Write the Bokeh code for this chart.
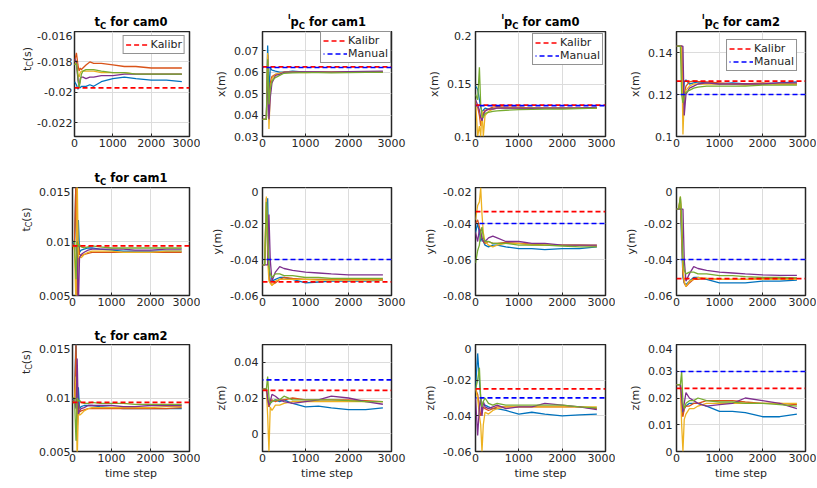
import math
from bokeh.plotting import figure
from bokeh.layouts import column, row
from bokeh.models import Label, FixedTicker, Range1d
from bokeh.embed import file_html
from bokeh.resources import INLINE

# ---------------- data ----------------
TIME_STEP = [0, 50, 90, 120, 150, 180, 220, 300, 400, 500, 700, 1000, 1300, 1600, 2000, 2400, 2800]
X_LIMITS = [0, 3000]
X_TICKS = [0, 1000, 2000, 3000]
X_TICK_LABELS = ["0", "1000", "2000", "3000"]
X_LABEL = "time step"
RUN_COLORS = ["#0072BD", "#D95319", "#EDB120", "#7E2F8E", "#77AC30"]
KALIBR_COLOR = "#FF0000"
MANUAL_COLOR = "#0000FF"

# t_C for cam0
TC_CAM0_BLUE = [-0.0193, -0.0195, -0.0198, -0.0196, -0.0197, -0.0196, -0.0196, -0.0196, -0.0195, -0.0196, -0.0193, -0.0191, -0.0190, -0.0191, -0.0192, -0.0192, -0.0193]
TC_CAM0_ORANGE = [-0.0180, -0.0174, -0.0182, -0.0186, -0.0184, -0.0185, -0.0184, -0.0182, -0.0180, -0.0181, -0.0181, -0.0182, -0.0183, -0.0183, -0.0184, -0.0184, -0.0184]
TC_CAM0_YELLOW = [-0.0182, -0.0179, -0.0188, -0.0190, -0.0187, -0.0186, -0.0186, -0.0186, -0.0186, -0.0186, -0.0187, -0.0187, -0.0187, -0.0188, -0.0188, -0.0188, -0.0188]
TC_CAM0_PURPLE = [-0.0178, -0.0180, -0.0192, -0.0196, -0.0191, -0.0190, -0.0190, -0.0191, -0.0190, -0.0190, -0.0189, -0.0189, -0.0188, -0.0188, -0.0188, -0.0188, -0.0188]
TC_CAM0_GREEN = [-0.0182, -0.0181, -0.0190, -0.0197, -0.0193, -0.0188, -0.0186, -0.0185, -0.0185, -0.0185, -0.0186, -0.0187, -0.0187, -0.0188, -0.0188, -0.0188, -0.0188]
TC_CAM0_KALIBR = -0.0197
TC_CAM0_YLIM = [-0.0229, -0.016]
TC_CAM0_YTICKS = [-0.022, -0.02, -0.018, -0.016]
TC_CAM0_YTICK_LABELS = ["-0.022", "-0.02", "-0.018", "-0.016"]

# Ip_C for cam1, x
X_CAM1_BLUE = [0.038, 0.038, 0.038, 0.0725, 0.050, 0.062, 0.061, 0.0605, 0.0600, 0.0600, 0.0605, 0.0600, 0.0600, 0.0600, 0.0600, 0.0600, 0.0602]
X_CAM1_ORANGE = [0.038, 0.038, 0.038, 0.068, 0.040, 0.055, 0.058, 0.059, 0.0595, 0.0600, 0.0600, 0.0600, 0.0600, 0.0600, 0.0601, 0.0600, 0.0600]
X_CAM1_YELLOW = [0.038, 0.038, 0.038, 0.069, 0.0335, 0.050, 0.057, 0.059, 0.0595, 0.0600, 0.0600, 0.0598, 0.0600, 0.0600, 0.0600, 0.0600, 0.0600]
X_CAM1_PURPLE = [0.038, 0.038, 0.038, 0.060, 0.038, 0.048, 0.055, 0.0585, 0.0590, 0.0600, 0.0600, 0.0602, 0.0602, 0.0600, 0.0603, 0.0604, 0.0605]
X_CAM1_GREEN = [0.038, 0.038, 0.038, 0.066, 0.045, 0.052, 0.056, 0.0575, 0.0585, 0.0595, 0.0597, 0.0598, 0.0598, 0.0597, 0.0598, 0.0599, 0.0599]
X_CAM1_KALIBR = 0.0625
X_CAM1_MANUAL = 0.0622
X_CAM1_YLIM = [0.03, 0.079]
X_CAM1_YTICKS = [0.03, 0.04, 0.05, 0.06, 0.07]
X_CAM1_YTICK_LABELS = ["0.03", "0.04", "0.05", "0.06", "0.07"]

# Ip_C for cam0, x
X_CAM0_BLUE = [0.148, 0.145, 0.135, 0.128, 0.124, 0.125, 0.127, 0.126, 0.1265, 0.127, 0.1275, 0.127, 0.1275, 0.127, 0.127, 0.127, 0.1275]
X_CAM0_ORANGE = [0.130, 0.128, 0.120, 0.110, 0.118, 0.122, 0.125, 0.126, 0.128, 0.1285, 0.128, 0.128, 0.127, 0.127, 0.127, 0.127, 0.127]
X_CAM0_YELLOW = [0.135, 0.100, 0.110, 0.100, 0.125, 0.100, 0.120, 0.124, 0.126, 0.127, 0.127, 0.127, 0.127, 0.127, 0.127, 0.127, 0.127]
X_CAM0_PURPLE = [0.135, 0.130, 0.125, 0.118, 0.115, 0.120, 0.124, 0.126, 0.126, 0.127, 0.127, 0.127, 0.1268, 0.127, 0.127, 0.127, 0.128]
X_CAM0_GREEN = [0.140, 0.135, 0.166, 0.130, 0.120, 0.118, 0.122, 0.123, 0.124, 0.1245, 0.125, 0.1255, 0.1258, 0.126, 0.126, 0.1265, 0.127]
X_CAM0_KALIBR = 0.1298
X_CAM0_MANUAL = 0.1295
X_CAM0_YLIM = [0.1, 0.2]
X_CAM0_YTICKS = [0.1, 0.15, 0.2]
X_CAM0_YTICK_LABELS = ["0.1", "0.15", "0.2"]

# Ip_C for cam2, x
X_CAM2_BLUE = [0.143, 0.143, 0.143, 0.143, 0.118, 0.126, 0.127, 0.125, 0.1255, 0.126, 0.1255, 0.125, 0.1255, 0.125, 0.125, 0.1255, 0.126]
X_CAM2_ORANGE = [0.143, 0.143, 0.143, 0.143, 0.115, 0.120, 0.124, 0.126, 0.1265, 0.1262, 0.126, 0.1255, 0.125, 0.125, 0.1255, 0.125, 0.125]
X_CAM2_YELLOW = [0.143, 0.143, 0.143, 0.143, 0.101, 0.118, 0.122, 0.124, 0.125, 0.125, 0.125, 0.125, 0.125, 0.1245, 0.125, 0.125, 0.125]
X_CAM2_PURPLE = [0.143, 0.143, 0.143, 0.143, 0.143, 0.110, 0.120, 0.123, 0.124, 0.125, 0.1255, 0.125, 0.125, 0.125, 0.125, 0.1255, 0.1255]
X_CAM2_GREEN = [0.143, 0.143, 0.143, 0.120, 0.116, 0.120, 0.121, 0.122, 0.123, 0.1235, 0.124, 0.124, 0.124, 0.124, 0.1245, 0.1245, 0.1245]
X_CAM2_KALIBR = 0.1264
X_CAM2_MANUAL = 0.120
X_CAM2_YLIM = [0.1, 0.15]
X_CAM2_YTICKS = [0.1, 0.12, 0.14]
X_CAM2_YTICK_LABELS = ["0.1", "0.12", "0.14"]

# t_C for cam1
TC_CAM1_BLUE = [0.0100, 0.0095, 0.0160, 0.0040, 0.0120, 0.0090, 0.0092, 0.0093, 0.0094, 0.0094, 0.0093, 0.0092, 0.0091, 0.0091, 0.0091, 0.0091, 0.0091]
TC_CAM1_ORANGE = [0.0095, 0.0098, 0.0160, 0.0040, 0.0100, 0.0088, 0.0087, 0.0088, 0.0089, 0.0090, 0.0090, 0.0090, 0.0090, 0.0090, 0.0090, 0.0090, 0.0090]
TC_CAM1_YELLOW = [0.0098, 0.0092, 0.0040, 0.0160, 0.0085, 0.0086, 0.0085, 0.0088, 0.0090, 0.0091, 0.0091, 0.0091, 0.0090, 0.0090, 0.0090, 0.0091, 0.0091]
TC_CAM1_PURPLE = [0.0098, 0.0097, 0.0095, 0.0085, 0.0040, 0.0085, 0.0088, 0.0090, 0.0092, 0.0093, 0.0093, 0.0093, 0.0093, 0.0092, 0.0092, 0.0093, 0.0093]
TC_CAM1_GREEN = [0.0100, 0.0100, 0.0065, 0.0100, 0.0095, 0.0097, 0.0095, 0.0094, 0.0095, 0.0096, 0.0095, 0.0094, 0.0094, 0.0094, 0.0094, 0.0094, 0.0094]
TC_CAM1_KALIBR = 0.0096
TC_CAM1_YLIM = [0.005, 0.015]
TC_CAM1_YTICKS = [0.005, 0.01, 0.015]
TC_CAM1_YTICK_LABELS = ["0.005", "0.01", "0.015"]

# Ip_C for cam1, y
Y_CAM1_BLUE = [-0.043, -0.043, -0.020, -0.006, -0.045, -0.052, -0.052, -0.051, -0.050, -0.050, -0.051, -0.053, -0.0525, -0.052, -0.052, -0.052, -0.0515]
Y_CAM1_ORANGE = [-0.043, -0.043, -0.006, -0.030, -0.050, -0.053, -0.054, -0.053, -0.051, -0.050, -0.0505, -0.051, -0.051, -0.051, -0.051, -0.051, -0.051]
Y_CAM1_YELLOW = [-0.043, -0.043, -0.005, -0.040, -0.052, -0.053, -0.0545, -0.052, -0.051, -0.051, -0.051, -0.051, -0.0515, -0.0515, -0.0515, -0.0515, -0.0515]
Y_CAM1_PURPLE = [-0.043, -0.043, -0.043, -0.043, -0.015, -0.040, -0.052, -0.047, -0.044, -0.045, -0.046, -0.047, -0.0475, -0.048, -0.0485, -0.0485, -0.0485]
Y_CAM1_GREEN = [-0.043, -0.043, -0.008, -0.025, -0.044, -0.048, -0.050, -0.048, -0.048, -0.049, -0.049, -0.050, -0.050, -0.0505, -0.0505, -0.0505, -0.0505]
Y_CAM1_KALIBR = -0.0524
Y_CAM1_MANUAL = -0.040
Y_CAM1_YLIM = [-0.06, 0.0]
Y_CAM1_YTICKS = [-0.06, -0.04, -0.02, 0.0]
Y_CAM1_YTICK_LABELS = ["-0.06", "-0.04", "-0.02", "0"]

# Ip_C for cam0, y
Y_CAM0_BLUE = [-0.045, -0.040, -0.045, -0.050, -0.048, -0.050, -0.052, -0.053, -0.052, -0.052, -0.053, -0.054, -0.054, -0.0545, -0.054, -0.054, -0.053]
Y_CAM0_ORANGE = [-0.040, -0.038, -0.042, -0.045, -0.048, -0.050, -0.051, -0.050, -0.051, -0.051, -0.0505, -0.051, -0.0515, -0.052, -0.052, -0.052, -0.0525]
Y_CAM0_YELLOW = [-0.038, -0.030, -0.028, -0.020, -0.035, -0.045, -0.050, -0.052, -0.053, -0.052, -0.051, -0.051, -0.052, -0.052, -0.052, -0.052, -0.052]
Y_CAM0_PURPLE = [-0.045, -0.050, -0.043, -0.045, -0.048, -0.050, -0.050, -0.048, -0.047, -0.048, -0.050, -0.050, -0.051, -0.051, -0.052, -0.052, -0.052]
Y_CAM0_GREEN = [-0.062, -0.055, -0.052, -0.045, -0.042, -0.048, -0.050, -0.050, -0.051, -0.051, -0.051, -0.052, -0.052, -0.052, -0.0525, -0.053, -0.053]
Y_CAM0_KALIBR = -0.0334
Y_CAM0_MANUAL = -0.040
Y_CAM0_YLIM = [-0.08, -0.02]
Y_CAM0_YTICKS = [-0.08, -0.06, -0.04, -0.02]
Y_CAM0_YTICK_LABELS = ["-0.08", "-0.06", "-0.04", "-0.02"]

# Ip_C for cam2, y
Y_CAM2_BLUE = [-0.012, -0.012, -0.008, -0.030, -0.050, -0.053, -0.054, -0.052, -0.050, -0.050, -0.051, -0.053, -0.053, -0.053, -0.052, -0.052, -0.0515]
Y_CAM2_ORANGE = [-0.012, -0.012, -0.006, -0.025, -0.048, -0.053, -0.055, -0.053, -0.051, -0.051, -0.0505, -0.051, -0.051, -0.051, -0.0505, -0.0505, -0.0505]
Y_CAM2_YELLOW = [-0.012, -0.012, -0.005, -0.020, -0.045, -0.052, -0.055, -0.052, -0.051, -0.050, -0.0505, -0.051, -0.051, -0.051, -0.051, -0.051, -0.051]
Y_CAM2_PURPLE = [-0.012, -0.012, -0.012, -0.012, -0.012, -0.040, -0.052, -0.048, -0.044, -0.045, -0.046, -0.047, -0.0475, -0.048, -0.0485, -0.0488, -0.0488]
Y_CAM2_GREEN = [-0.012, -0.012, -0.005, -0.015, -0.040, -0.046, -0.048, -0.047, -0.047, -0.048, -0.048, -0.049, -0.049, -0.0495, -0.050, -0.050, -0.0502]
Y_CAM2_KALIBR = -0.0506
Y_CAM2_MANUAL = -0.040
Y_CAM2_YLIM = [-0.06, 0.0]
Y_CAM2_YTICKS = [-0.06, -0.04, -0.02, 0.0]
Y_CAM2_YTICK_LABELS = ["-0.06", "-0.04", "-0.02", "0"]

# t_C for cam2
TC_CAM2_BLUE = [0.0100, 0.0095, 0.0160, 0.0060, 0.0110, 0.0090, 0.0092, 0.0093, 0.0093, 0.0093, 0.0092, 0.0091, 0.0090, 0.0090, 0.0090, 0.0090, 0.0090]
TC_CAM2_ORANGE = [0.0095, 0.0098, 0.0150, 0.0070, 0.0095, 0.0087, 0.0088, 0.0089, 0.0090, 0.0090, 0.0090, 0.0090, 0.0090, 0.0090, 0.0090, 0.0090, 0.0091]
TC_CAM2_YELLOW = [0.0098, 0.0095, 0.0120, 0.0040, 0.0090, 0.0084, 0.0085, 0.0088, 0.0090, 0.0091, 0.0091, 0.0091, 0.0091, 0.0091, 0.0091, 0.0092, 0.0092]
TC_CAM2_PURPLE = [0.0098, 0.0097, 0.0090, 0.0137, 0.0085, 0.0088, 0.0090, 0.0091, 0.0093, 0.0093, 0.0093, 0.0093, 0.0092, 0.0092, 0.0093, 0.0093, 0.0093]
TC_CAM2_GREEN = [0.0100, 0.0100, 0.0060, 0.0100, 0.0097, 0.0098, 0.0096, 0.0095, 0.0095, 0.0096, 0.0095, 0.0095, 0.0095, 0.0094, 0.0094, 0.0094, 0.0094]
TC_CAM2_KALIBR = 0.0096
TC_CAM2_YLIM = [0.005, 0.015]
TC_CAM2_YTICKS = [0.005, 0.01, 0.015]
TC_CAM2_YTICK_LABELS = ["0.005", "0.01", "0.015"]

# Ip_C for cam1, z
Z_CAM1_BLUE = [0.025, 0.025, 0.025, 0.018, 0.015, 0.017, 0.018, 0.019, 0.018, 0.019, 0.017, 0.015, 0.0155, 0.0145, 0.0135, 0.0135, 0.0145]
Z_CAM1_ORANGE = [0.025, 0.025, 0.025, 0.020, 0.015, 0.018, 0.019, 0.018, 0.019, 0.019, 0.020, 0.019, 0.019, 0.019, 0.019, 0.0185, 0.018]
Z_CAM1_YELLOW = [0.025, 0.025, 0.025, 0.010, -0.010, 0.015, 0.013, 0.016, 0.016, 0.017, 0.018, 0.018, 0.018, 0.018, 0.018, 0.018, 0.018]
Z_CAM1_PURPLE = [0.025, 0.025, 0.025, 0.020, 0.016, 0.018, 0.022, 0.021, 0.019, 0.018, 0.017, 0.018, 0.019, 0.021, 0.020, 0.018, 0.0165]
Z_CAM1_GREEN = [0.025, 0.025, 0.025, 0.032, 0.020, 0.017, 0.018, 0.019, 0.019, 0.021, 0.019, 0.019, 0.019, 0.019, 0.0185, 0.018, 0.018]
Z_CAM1_KALIBR = 0.0243
Z_CAM1_MANUAL = 0.0302
Z_CAM1_YLIM = [-0.01, 0.05]
Z_CAM1_YTICKS = [0.0, 0.02, 0.04]
Z_CAM1_YTICK_LABELS = ["0", "0.02", "0.04"]

# Ip_C for cam0, z
Z_CAM0_BLUE = [-0.025, -0.005, -0.020, -0.030, -0.035, -0.033, -0.034, -0.035, -0.036, -0.036, -0.037, -0.039, -0.038, -0.039, -0.040, -0.0395, -0.039]
Z_CAM0_ORANGE = [-0.025, -0.028, -0.035, -0.040, -0.038, -0.035, -0.036, -0.037, -0.036, -0.035, -0.035, -0.035, -0.035, -0.035, -0.035, -0.035, -0.036]
Z_CAM0_YELLOW = [-0.025, -0.030, -0.040, -0.045, -0.060, -0.045, -0.038, -0.039, -0.037, -0.036, -0.035, -0.035, -0.035, -0.035, -0.035, -0.035, -0.035]
Z_CAM0_PURPLE = [-0.030, -0.051, -0.035, -0.030, -0.040, -0.032, -0.035, -0.036, -0.035, -0.034, -0.036, -0.035, -0.035, -0.033, -0.034, -0.035, -0.0365]
Z_CAM0_GREEN = [-0.025, -0.020, -0.013, -0.030, -0.035, -0.032, -0.030, -0.033, -0.034, -0.033, -0.034, -0.034, -0.034, -0.034, -0.034, -0.035, -0.0355]
Z_CAM0_KALIBR = -0.0249
Z_CAM0_MANUAL = -0.0299
Z_CAM0_YLIM = [-0.06, 0.0]
Z_CAM0_YTICKS = [-0.06, -0.04, -0.02, 0.0]
Z_CAM0_YTICK_LABELS = ["-0.06", "-0.04", "-0.02", "0"]

# Ip_C for cam2, z
Z_CAM2_BLUE = [0.025, 0.025, 0.025, 0.018, 0.014, 0.016, 0.017, 0.018, 0.018, 0.018, 0.017, 0.015, 0.015, 0.0145, 0.013, 0.013, 0.014]
Z_CAM2_ORANGE = [0.025, 0.025, 0.025, 0.015, 0.013, 0.016, 0.017, 0.017, 0.018, 0.018, 0.019, 0.019, 0.019, 0.0185, 0.018, 0.018, 0.0175]
Z_CAM2_YELLOW = [0.025, 0.025, 0.025, 0.010, 0.000, 0.012, 0.014, 0.016, 0.016, 0.017, 0.018, 0.018, 0.018, 0.018, 0.018, 0.018, 0.018]
Z_CAM2_PURPLE = [0.025, 0.025, 0.025, 0.020, 0.015, 0.018, 0.022, 0.020, 0.019, 0.018, 0.017, 0.0175, 0.018, 0.020, 0.019, 0.018, 0.016]
Z_CAM2_GREEN = [0.025, 0.025, 0.025, 0.030, 0.018, 0.016, 0.018, 0.019, 0.019, 0.020, 0.019, 0.0185, 0.0185, 0.018, 0.018, 0.0175, 0.017]
Z_CAM2_KALIBR = 0.0236
Z_CAM2_MANUAL = 0.0299
Z_CAM2_YLIM = [0.0, 0.04]
Z_CAM2_YTICKS = [0.0, 0.01, 0.02, 0.03, 0.04]
Z_CAM2_YTICK_LABELS = ["0", "0.01", "0.02", "0.03", "0.04"]

# ---------------- layout / style ----------------
FONT = "DejaVu Sans"
TXT = "#262626"
STRIP_W = 34                       # left strip holding the rotated t_C(s) labels
COL_W = [166, 210, 205, 201]
COL_LEFT = [38, 62, 65, 61]
COL_RIGHT = [11, 19, 10, 11]
TITLE_H = [31, 26, 27]             # title strips above each row
TITLE_BASE = [9.5, 10, 9]          # title baseline above strip bottom
ROW_H = [130, 130, 143]
FRAME_H_FIRST = [105, 108, 107]
FRAME_H_OTHER = [114, 112, 112]
LEGEND_MARGIN = [4, 0, 2, 8]
YLABEL_BASE_X = [27, 26, 26]

BOLD_W = {" ": 348, "f": 435, "o": 687, "r": 493, "c": 593, "a": 675, "m": 1042,
          "0": 696, "1": 696, "2": 696, "t": 478, "p": 716, "C": 734, "I": 372}
REG_W = {" ": 318, "t": 392, "C": 698, "(": 390, ")": 390, "s": 521}


def text_w(s, size, table):
    return sum(table.get(ch, 620) for ch in s) / 1000.0 * size


def frame_center_x(c):
    left = STRIP_W + sum(COL_W[:c]) + COL_LEFT[c]
    fw = COL_W[c] - COL_LEFT[c] - COL_RIGHT[c]
    return left + fw / 2.0


def blank_strip(w, h):
    s = figure(width=w, height=h, x_range=Range1d(0, w), y_range=Range1d(0, h),
               output_backend="svg", toolbar_location=None, title=None,
               x_axis_location=None, y_axis_location=None,
               min_border=0, min_border_left=0, min_border_right=0,
               min_border_top=0, min_border_bottom=0)
    s.outline_line_color = None
    s.background_fill_color = "white"
    s.border_fill_color = "white"
    for g in s.grid:
        g.visible = False
    return s


def add_title(strip, xc, base, sup, main, sub, rest):
    pieces = []
    if sup:
        pieces.append((sup, 7.0, 5.5, 0.0))
    pieces += [(main, 11.5, 0.0, 0.0), (sub, 8.5, -4.0, 0.0),
               (rest.strip(), 11.5, 0.0, text_w(" ", 11.5, BOLD_W))]
    widths = [gap + text_w(t, s, BOLD_W) for t, s, _, gap in pieces]
    x = xc - sum(widths) / 2.0
    for (t, s, dy, gap), w in zip(pieces, widths):
        strip.add_layout(Label(x=x + gap, y=base + dy, x_units="screen", y_units="screen",
                               text=t, text_font=FONT, text_font_size=f"{s}px",
                               text_font_style="bold", text_color="#000000",
                               text_align="left", text_baseline="alphabetic"))
        x += w


def add_tc_ylabel(strip, base_x, yc):
    pieces = [("t", 11.0, 0.0), ("C", 8.0, 2.5), ("(s)", 11.0, 0.0)]
    widths = [text_w(t, s, REG_W) for t, s, _ in pieces]
    y = yc - sum(widths) / 2.0
    for (t, s, dx), w in zip(pieces, widths):
        strip.add_layout(Label(x=base_x + dx, y=y, x_units="screen", y_units="screen",
                               angle=math.pi / 2, text=t, text_font=FONT,
                               text_font_size=f"{s}px", text_color=TXT,
                               text_align="left", text_baseline="alphabetic"))
        y += w


PANELS = [
    dict(r=0, c=0, runs=[TC_CAM0_BLUE, TC_CAM0_ORANGE, TC_CAM0_YELLOW, TC_CAM0_PURPLE, TC_CAM0_GREEN],
         kalibr=TC_CAM0_KALIBR, manual=None, ylim=TC_CAM0_YLIM, yticks=TC_CAM0_YTICKS,
         ylabels=TC_CAM0_YTICK_LABELS, title=("", "t", "C", " for cam0"), ylabel=None),
    dict(r=0, c=1, runs=[X_CAM1_BLUE, X_CAM1_ORANGE, X_CAM1_YELLOW, X_CAM1_PURPLE, X_CAM1_GREEN],
         kalibr=X_CAM1_KALIBR, manual=X_CAM1_MANUAL, ylim=X_CAM1_YLIM, yticks=X_CAM1_YTICKS,
         ylabels=X_CAM1_YTICK_LABELS, title=("I", "p", "C", " for cam1"), ylabel="x(m)"),
    dict(r=0, c=2, runs=[X_CAM0_BLUE, X_CAM0_ORANGE, X_CAM0_YELLOW, X_CAM0_PURPLE, X_CAM0_GREEN],
         kalibr=X_CAM0_KALIBR, manual=X_CAM0_MANUAL, ylim=X_CAM0_YLIM, yticks=X_CAM0_YTICKS,
         ylabels=X_CAM0_YTICK_LABELS, title=("I", "p", "C", " for cam0"), ylabel="x(m)"),
    dict(r=0, c=3, runs=[X_CAM2_BLUE, X_CAM2_ORANGE, X_CAM2_YELLOW, X_CAM2_PURPLE, X_CAM2_GREEN],
         kalibr=X_CAM2_KALIBR, manual=X_CAM2_MANUAL, ylim=X_CAM2_YLIM, yticks=X_CAM2_YTICKS,
         ylabels=X_CAM2_YTICK_LABELS, title=("I", "p", "C", " for cam2"), ylabel="x(m)"),
    dict(r=1, c=0, runs=[TC_CAM1_BLUE, TC_CAM1_ORANGE, TC_CAM1_YELLOW, TC_CAM1_PURPLE, TC_CAM1_GREEN],
         kalibr=TC_CAM1_KALIBR, manual=None, ylim=TC_CAM1_YLIM, yticks=TC_CAM1_YTICKS,
         ylabels=TC_CAM1_YTICK_LABELS, title=("", "t", "C", " for cam1"), ylabel=None),
    dict(r=1, c=1, runs=[Y_CAM1_BLUE, Y_CAM1_ORANGE, Y_CAM1_YELLOW, Y_CAM1_PURPLE, Y_CAM1_GREEN],
         kalibr=Y_CAM1_KALIBR, manual=Y_CAM1_MANUAL, ylim=Y_CAM1_YLIM, yticks=Y_CAM1_YTICKS,
         ylabels=Y_CAM1_YTICK_LABELS, title=None, ylabel="y(m)"),
    dict(r=1, c=2, runs=[Y_CAM0_BLUE, Y_CAM0_ORANGE, Y_CAM0_YELLOW, Y_CAM0_PURPLE, Y_CAM0_GREEN],
         kalibr=Y_CAM0_KALIBR, manual=Y_CAM0_MANUAL, ylim=Y_CAM0_YLIM, yticks=Y_CAM0_YTICKS,
         ylabels=Y_CAM0_YTICK_LABELS, title=None, ylabel="y(m)"),
    dict(r=1, c=3, runs=[Y_CAM2_BLUE, Y_CAM2_ORANGE, Y_CAM2_YELLOW, Y_CAM2_PURPLE, Y_CAM2_GREEN],
         kalibr=Y_CAM2_KALIBR, manual=Y_CAM2_MANUAL, ylim=Y_CAM2_YLIM, yticks=Y_CAM2_YTICKS,
         ylabels=Y_CAM2_YTICK_LABELS, title=None, ylabel="y(m)"),
    dict(r=2, c=0, runs=[TC_CAM2_BLUE, TC_CAM2_ORANGE, TC_CAM2_YELLOW, TC_CAM2_PURPLE, TC_CAM2_GREEN],
         kalibr=TC_CAM2_KALIBR, manual=None, ylim=TC_CAM2_YLIM, yticks=TC_CAM2_YTICKS,
         ylabels=TC_CAM2_YTICK_LABELS, title=("", "t", "C", " for cam2"), ylabel=None),
    dict(r=2, c=1, runs=[Z_CAM1_BLUE, Z_CAM1_ORANGE, Z_CAM1_YELLOW, Z_CAM1_PURPLE, Z_CAM1_GREEN],
         kalibr=Z_CAM1_KALIBR, manual=Z_CAM1_MANUAL, ylim=Z_CAM1_YLIM, yticks=Z_CAM1_YTICKS,
         ylabels=Z_CAM1_YTICK_LABELS, title=None, ylabel="z(m)"),
    dict(r=2, c=2, runs=[Z_CAM0_BLUE, Z_CAM0_ORANGE, Z_CAM0_YELLOW, Z_CAM0_PURPLE, Z_CAM0_GREEN],
         kalibr=Z_CAM0_KALIBR, manual=Z_CAM0_MANUAL, ylim=Z_CAM0_YLIM, yticks=Z_CAM0_YTICKS,
         ylabels=Z_CAM0_YTICK_LABELS, title=None, ylabel="z(m)"),
    dict(r=2, c=3, runs=[Z_CAM2_BLUE, Z_CAM2_ORANGE, Z_CAM2_YELLOW, Z_CAM2_PURPLE, Z_CAM2_GREEN],
         kalibr=Z_CAM2_KALIBR, manual=Z_CAM2_MANUAL, ylim=Z_CAM2_YLIM, yticks=Z_CAM2_YTICKS,
         ylabels=Z_CAM2_YTICK_LABELS, title=None, ylabel="z(m)"),
]


def make_panel(spec):
    r, c = spec["r"], spec["c"]
    fh = FRAME_H_FIRST[r] if c == 0 else FRAME_H_OTHER[r]
    bottom = ROW_H[r] - fh
    p = figure(width=COL_W[c], height=ROW_H[r], title=None,
               x_range=Range1d(*X_LIMITS), y_range=Range1d(*spec["ylim"]),
               output_backend="svg", toolbar_location=None,
               min_border_left=COL_LEFT[c], min_border_right=COL_RIGHT[c],
               min_border_top=0, min_border_bottom=bottom)
    p.background_fill_color = "white"
    p.border_fill_color = "white"
    p.outline_line_color = "#262626"
    p.outline_line_width = 1.5

    for ax in (p.xaxis[0], p.yaxis[0]):
        ax.axis_line_color = None
        ax.major_tick_in = 3
        ax.major_tick_out = 0
        ax.major_tick_line_color = "#262626"
        ax.minor_tick_line_color = None
        ax.major_label_text_font = FONT
        ax.major_label_text_font_size = "11px"
        ax.major_label_text_color = TXT
    p.xaxis.ticker = FixedTicker(ticks=X_TICKS)
    p.xaxis.major_label_overrides = dict(zip(X_TICKS, X_TICK_LABELS))
    p.xaxis.major_label_standoff = 2
    p.yaxis.ticker = FixedTicker(ticks=spec["yticks"])
    p.yaxis.major_label_overrides = dict(zip(spec["yticks"], spec["ylabels"]))
    p.yaxis.major_label_standoff = 2 if c == 0 else 4
    if spec["ylabel"]:
        p.yaxis.axis_label = spec["ylabel"]
        p.yaxis.axis_label_text_font = FONT
        p.yaxis.axis_label_text_font_size = "11px"
        p.yaxis.axis_label_text_font_style = "normal"
        p.yaxis.axis_label_text_color = TXT
        p.yaxis.axis_label_standoff = 3
    if r == 2:
        p.xaxis.axis_label = X_LABEL
        p.xaxis.axis_label_text_font = FONT
        p.xaxis.axis_label_text_font_size = "11px"
        p.xaxis.axis_label_text_font_style = "normal"
        p.xaxis.axis_label_text_color = TXT
        p.xaxis.axis_label_standoff = 2

    p.xgrid.grid_line_color = "#dcdcdc"
    p.ygrid.grid_line_color = "#dcdcdc"

    for run, color in zip(spec["runs"], RUN_COLORS):
        p.line(TIME_STEP, run, line_color=color, line_width=1.3)

    show_legend = (r == 0)
    kal_y = [spec["kalibr"], spec["kalibr"]]
    kw = dict(legend_label="Kalibr") if show_legend else {}
    p.line(X_LIMITS, kal_y, line_color=KALIBR_COLOR, line_width=1.7, line_dash="5 3", **kw)
    if spec["manual"] is not None:
        man_y = [spec["manual"], spec["manual"]]
        kw = dict(legend_label="Manual") if show_legend else {}
        p.line(X_LIMITS, man_y, line_color=MANUAL_COLOR, line_width=1.7,
               line_dash="5 3", line_dash_offset=4, **kw)

    if show_legend:
        lg = p.legend[0]
        lg.location = "top_right"
        lg.margin = LEGEND_MARGIN[c]
        lg.padding = 2
        lg.spacing = 0
        lg.glyph_width = 24
        lg.glyph_height = 13
        lg.label_height = 13
        lg.label_standoff = 1
        lg.label_text_font = FONT
        lg.label_text_font_size = "11px"
        lg.label_text_color = TXT
        lg.border_line_color = "#262626"
        lg.border_line_width = 1.5
        lg.background_fill_color = "white"
        lg.background_fill_alpha = 1.0
    return p


figs = [[None] * 4 for _ in range(3)]
for spec in PANELS:
    figs[spec["r"]][spec["c"]] = make_panel(spec)

total_w = STRIP_W + sum(COL_W)
blocks = []
for r in range(3):
    tstrip = blank_strip(total_w, TITLE_H[r])
    for spec in PANELS:
        if spec["r"] == r and spec["title"]:
            add_title(tstrip, frame_center_x(spec["c"]), TITLE_BASE[r], *spec["title"])
    ystrip = blank_strip(STRIP_W, ROW_H[r])
    yc = ROW_H[r] - FRAME_H_FIRST[r] / 2.0
    add_tc_ylabel(ystrip, YLABEL_BASE_X[r], yc)
    blocks.append(tstrip)
    blocks.append(row(ystrip, *figs[r], spacing=0))

layout = column(*blocks, spacing=0)

open("out.html", "w").write(file_html(layout, INLINE))
